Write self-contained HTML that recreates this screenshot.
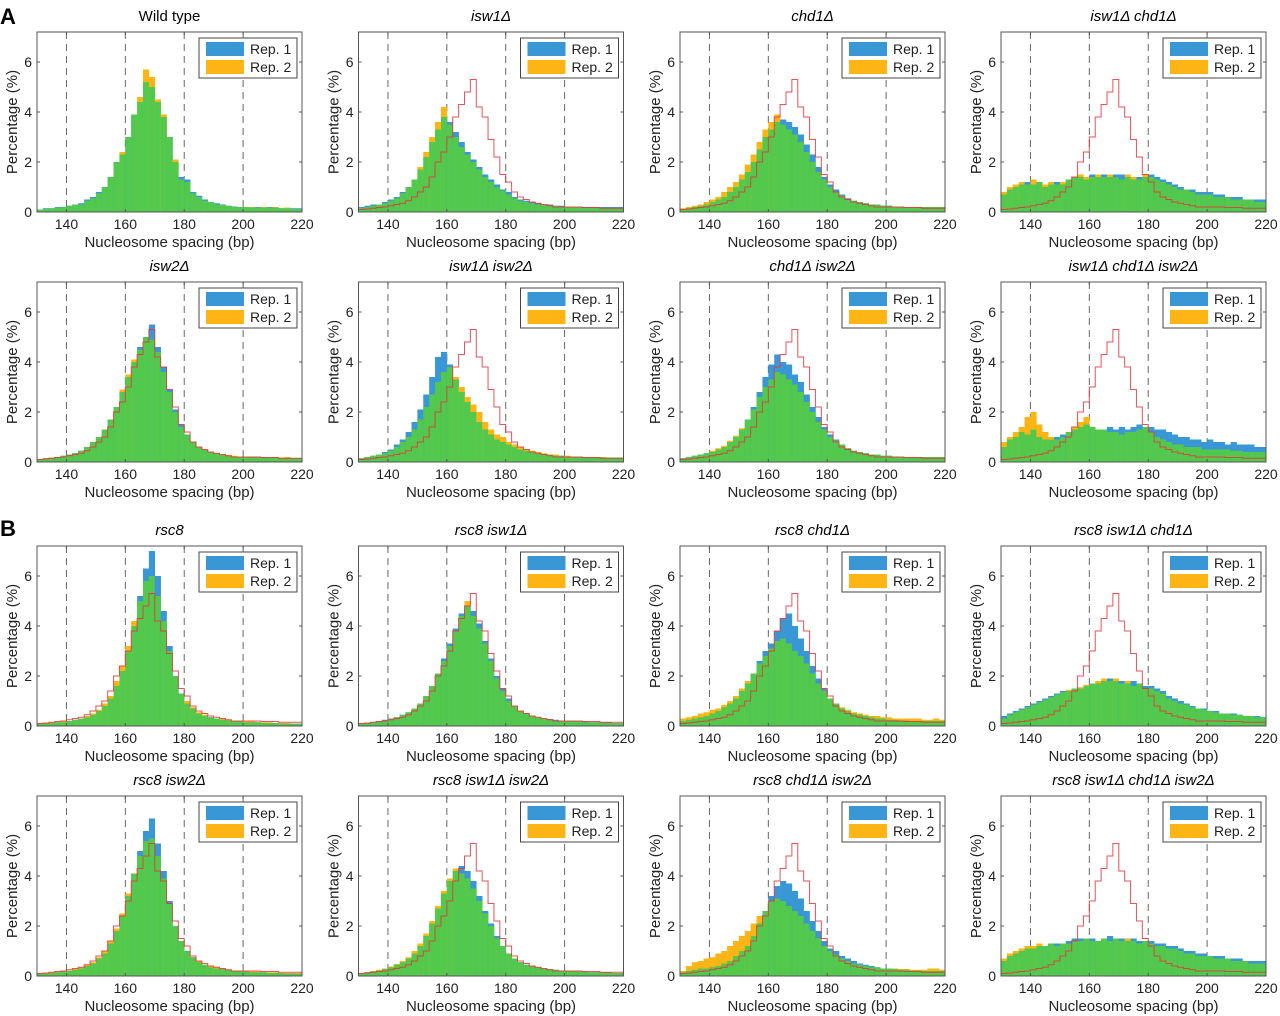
<!DOCTYPE html>
<html><head><meta charset="utf-8"><style>
html,body{margin:0;padding:0;background:#fff;}
svg{display:block;font-family:"Liberation Sans",sans-serif;}
</style></head><body>
<svg id="fig" width="1280" height="1016" viewBox="0 0 1280 1016"></svg>
<script>
const binStarts=[130,132,134,136,138,140,142,144,146,148,150,152,154,156,158,160,162,164,166,168,170,172,174,176,178,180,182,184,186,188,190,192,194,196,198,200,202,204,206,208,210,212,214,216,218];
const xTicks=[140,160,180,200,220];
const yTicks=[0,2,4,6];
const wtRef=[0.1,0.12,0.15,0.18,0.2,0.25,0.3,0.35,0.45,0.6,0.8,1.0,1.4,2.0,2.4,3.0,3.8,4.3,4.8,5.3,4.2,3.8,2.9,2.2,1.5,1.2,0.8,0.6,0.5,0.4,0.35,0.3,0.25,0.2,0.2,0.2,0.2,0.2,0.18,0.18,0.18,0.15,0.15,0.15,0.15];
const wt_r1=[0.1,0.15,0.15,0.2,0.2,0.25,0.3,0.35,0.5,0.6,0.8,1.0,1.4,2.0,2.3,3.0,3.9,4.4,5.2,5.0,4.4,3.8,3.0,2.0,1.4,1.3,0.8,0.65,0.5,0.4,0.35,0.3,0.25,0.22,0.2,0.2,0.18,0.2,0.18,0.2,0.18,0.15,0.15,0.15,0.15];
const wt_r2=[0.1,0.12,0.15,0.18,0.2,0.25,0.3,0.3,0.45,0.55,0.75,1.0,1.4,2.0,2.4,3.0,3.9,4.6,5.7,5.4,4.5,3.9,3.0,2.1,1.3,1.2,0.75,0.6,0.45,0.4,0.3,0.28,0.25,0.2,0.2,0.2,0.2,0.18,0.2,0.18,0.2,0.15,0.18,0.12,0.12];
const isw1_r1=[0.2,0.25,0.3,0.3,0.4,0.5,0.6,0.8,1.0,1.3,1.7,2.2,2.8,3.3,3.8,3.6,3.2,2.8,2.4,2.1,1.8,1.5,1.3,1.1,0.9,0.8,0.6,0.5,0.45,0.4,0.35,0.3,0.3,0.25,0.25,0.2,0.2,0.2,0.2,0.2,0.2,0.2,0.2,0.2,0.2];
const isw1_r2=[0.15,0.2,0.25,0.3,0.35,0.45,0.55,0.75,1.0,1.3,1.8,2.4,3.0,3.6,4.2,3.5,3.0,2.6,2.3,2.0,1.7,1.4,1.2,1.0,0.85,0.7,0.55,0.45,0.4,0.35,0.3,0.3,0.25,0.25,0.2,0.2,0.2,0.18,0.18,0.18,0.18,0.15,0.15,0.15,0.15];
const chd1_r1=[0.1,0.15,0.2,0.25,0.3,0.4,0.5,0.6,0.8,1.0,1.3,1.6,2.0,2.5,3.0,3.3,3.6,3.7,3.6,3.4,3.1,2.7,2.3,1.8,1.4,1.1,0.9,0.7,0.55,0.45,0.4,0.35,0.3,0.3,0.25,0.25,0.2,0.2,0.2,0.2,0.2,0.2,0.2,0.2,0.2];
const chd1_r2=[0.15,0.2,0.25,0.3,0.4,0.5,0.6,0.8,1.0,1.2,1.5,1.9,2.3,2.8,3.3,3.6,3.9,3.5,3.3,3.1,2.8,2.4,2.0,1.6,1.3,1.0,0.8,0.65,0.5,0.45,0.4,0.35,0.3,0.3,0.25,0.25,0.2,0.2,0.2,0.2,0.2,0.2,0.2,0.2,0.2];
const ic_r1=[0.7,0.9,1.0,1.1,1.2,1.1,1.2,1.0,1.1,1.2,1.1,1.3,1.4,1.4,1.3,1.5,1.4,1.5,1.4,1.5,1.5,1.4,1.3,1.4,1.4,1.5,1.4,1.3,1.2,1.1,1.0,0.9,0.9,0.8,0.8,0.8,0.7,0.7,0.6,0.6,0.6,0.5,0.5,0.5,0.5];
const ic_r2=[0.8,1.0,1.1,1.2,1.1,1.3,1.2,1.1,1.2,1.1,1.2,1.3,1.4,1.5,1.4,1.4,1.5,1.4,1.5,1.4,1.3,1.5,1.4,1.3,1.5,1.4,1.3,1.2,1.1,1.0,0.9,0.9,0.8,0.7,0.7,0.7,0.6,0.6,0.6,0.5,0.5,0.5,0.5,0.4,0.4];
const isw2_r1=[0.1,0.15,0.15,0.2,0.25,0.3,0.35,0.45,0.6,0.8,1.0,1.3,1.7,2.2,2.8,3.4,4.0,4.6,5.0,5.5,4.6,3.8,2.9,2.1,1.5,1.1,0.8,0.6,0.5,0.4,0.35,0.3,0.25,0.22,0.2,0.2,0.2,0.2,0.18,0.18,0.18,0.15,0.15,0.15,0.15];
const isw2_r2=[0.12,0.15,0.18,0.2,0.25,0.3,0.35,0.45,0.6,0.8,1.0,1.3,1.7,2.2,2.9,3.5,4.1,4.5,5.0,4.9,4.4,3.6,2.8,2.0,1.4,1.1,0.8,0.6,0.5,0.4,0.35,0.3,0.28,0.25,0.2,0.2,0.22,0.2,0.2,0.18,0.2,0.18,0.2,0.15,0.15];
const i12_r1=[0.15,0.2,0.25,0.3,0.4,0.5,0.7,0.9,1.2,1.6,2.1,2.7,3.4,4.2,4.4,3.9,3.3,2.8,2.4,2.0,1.6,1.3,1.1,0.9,0.8,0.7,0.6,0.5,0.45,0.4,0.35,0.3,0.3,0.25,0.25,0.22,0.2,0.2,0.2,0.2,0.2,0.18,0.18,0.18,0.18];
const i12_r2=[0.15,0.2,0.25,0.3,0.35,0.45,0.6,0.8,1.0,1.3,1.7,2.2,2.7,3.2,3.6,3.8,3.4,3.0,2.6,2.3,2.0,1.6,1.3,1.1,1.0,0.8,0.7,0.6,0.5,0.45,0.4,0.35,0.3,0.3,0.25,0.25,0.22,0.2,0.2,0.2,0.2,0.2,0.18,0.18,0.18];
const c2_r1=[0.15,0.2,0.25,0.3,0.35,0.4,0.5,0.6,0.8,1.0,1.3,1.7,2.2,2.8,3.4,3.9,4.3,4.0,3.9,3.5,3.2,2.7,2.2,1.8,1.4,1.1,0.9,0.7,0.55,0.45,0.4,0.35,0.3,0.3,0.25,0.25,0.22,0.2,0.2,0.2,0.2,0.2,0.2,0.2,0.2];
const c2_r2=[0.15,0.2,0.25,0.3,0.35,0.45,0.55,0.65,0.85,1.05,1.35,1.7,2.1,2.6,3.0,3.3,3.6,3.5,3.3,3.1,2.8,2.4,2.0,1.6,1.3,1.0,0.85,0.7,0.55,0.45,0.4,0.35,0.3,0.3,0.25,0.25,0.22,0.2,0.2,0.2,0.2,0.2,0.2,0.2,0.2];
const ic2_r1=[0.6,0.9,1.0,1.2,1.1,1.3,1.0,0.9,0.9,1.0,1.1,1.2,1.3,1.4,1.5,1.4,1.3,1.3,1.4,1.3,1.4,1.3,1.4,1.5,1.4,1.4,1.3,1.3,1.2,1.1,1.0,1.0,0.9,0.9,0.8,0.9,0.8,0.8,0.7,0.8,0.7,0.7,0.7,0.6,0.6];
const ic2_r2=[0.8,1.0,1.2,1.4,1.8,2.0,1.5,1.2,1.0,0.9,1.0,1.2,1.4,1.6,1.8,1.4,1.3,1.3,1.2,1.2,1.1,1.2,1.2,1.3,1.4,1.2,1.0,0.9,0.8,0.7,0.7,0.6,0.6,0.6,0.5,0.5,0.5,0.5,0.5,0.45,0.45,0.4,0.4,0.4,0.4];
const r8_r1=[0.1,0.1,0.12,0.15,0.15,0.2,0.25,0.3,0.35,0.45,0.6,0.8,1.1,1.6,2.2,3.0,4.0,5.2,6.3,7.0,6.0,4.6,3.2,2.0,1.3,0.9,0.7,0.5,0.4,0.35,0.3,0.25,0.22,0.2,0.18,0.15,0.15,0.15,0.12,0.12,0.12,0.1,0.1,0.1,0.1];
const r8_r2=[0.1,0.12,0.15,0.15,0.2,0.2,0.25,0.3,0.4,0.5,0.65,0.9,1.2,1.8,2.4,3.2,4.2,5.0,5.8,6.0,5.2,4.2,3.0,2.0,1.3,1.0,0.75,0.55,0.45,0.35,0.3,0.28,0.25,0.2,0.2,0.18,0.18,0.15,0.15,0.15,0.12,0.12,0.12,0.1,0.1];
const r8i1_r1=[0.1,0.12,0.15,0.2,0.25,0.3,0.35,0.45,0.55,0.7,0.9,1.2,1.6,2.1,2.7,3.3,3.9,4.5,4.8,4.6,4.1,3.4,2.7,2.0,1.5,1.1,0.8,0.6,0.5,0.4,0.35,0.3,0.28,0.25,0.22,0.2,0.2,0.18,0.18,0.15,0.15,0.15,0.15,0.12,0.12];
const r8i1_r2=[0.1,0.12,0.15,0.2,0.22,0.28,0.35,0.45,0.55,0.7,0.9,1.2,1.6,2.1,2.6,3.2,3.8,4.4,5.0,4.4,3.9,3.3,2.6,1.9,1.4,1.0,0.8,0.6,0.5,0.4,0.35,0.3,0.25,0.22,0.2,0.2,0.18,0.18,0.15,0.15,0.15,0.15,0.12,0.12,0.12];
const r8c1_r1=[0.2,0.25,0.3,0.35,0.4,0.5,0.6,0.75,0.9,1.1,1.4,1.7,2.1,2.6,3.0,3.3,3.8,4.3,4.5,4.0,3.5,3.0,2.4,1.9,1.5,1.1,0.9,0.7,0.6,0.5,0.45,0.4,0.35,0.3,0.3,0.25,0.25,0.22,0.22,0.2,0.2,0.2,0.2,0.2,0.2];
const r8c1_r2=[0.3,0.35,0.4,0.5,0.55,0.65,0.7,0.85,1.0,1.2,1.5,1.8,2.1,2.5,2.8,3.1,3.4,3.5,3.3,3.0,2.8,2.5,2.1,1.7,1.4,1.1,0.9,0.75,0.65,0.55,0.5,0.45,0.4,0.4,0.35,0.35,0.3,0.3,0.3,0.3,0.3,0.25,0.25,0.3,0.25];
const r8ic_r1=[0.4,0.5,0.6,0.7,0.8,0.9,1.0,1.1,1.2,1.3,1.4,1.4,1.5,1.5,1.6,1.7,1.7,1.8,1.9,1.8,1.8,1.7,1.8,1.7,1.6,1.6,1.5,1.4,1.2,1.1,1.0,0.9,0.8,0.7,0.7,0.6,0.6,0.5,0.5,0.5,0.45,0.4,0.4,0.4,0.35];
const r8ic_r2=[0.3,0.45,0.55,0.65,0.75,0.85,0.95,1.05,1.15,1.25,1.35,1.45,1.5,1.55,1.65,1.7,1.8,1.9,1.8,1.9,1.7,1.8,1.6,1.7,1.5,1.5,1.4,1.3,1.1,1.0,0.9,0.85,0.75,0.7,0.65,0.6,0.55,0.5,0.5,0.45,0.45,0.4,0.4,0.35,0.35];
const r8i2_r1=[0.1,0.1,0.12,0.15,0.18,0.2,0.25,0.3,0.4,0.5,0.7,0.9,1.3,1.8,2.4,3.2,4.1,5.0,5.8,6.3,5.3,4.2,3.0,2.0,1.4,1.0,0.75,0.55,0.45,0.35,0.3,0.28,0.25,0.2,0.2,0.18,0.15,0.15,0.15,0.12,0.12,0.12,0.1,0.1,0.1];
const r8i2_r2=[0.1,0.12,0.15,0.18,0.2,0.22,0.28,0.35,0.45,0.55,0.75,1.0,1.4,1.9,2.5,3.3,4.1,4.8,5.4,5.5,4.8,3.9,2.9,2.0,1.4,1.0,0.75,0.6,0.45,0.4,0.35,0.3,0.25,0.22,0.2,0.2,0.18,0.18,0.15,0.15,0.15,0.12,0.12,0.12,0.12];
const r8i12_r1=[0.1,0.15,0.18,0.22,0.28,0.35,0.45,0.55,0.7,0.9,1.2,1.6,2.1,2.7,3.3,3.8,4.2,4.4,4.2,3.8,3.2,2.6,2.1,1.6,1.2,0.9,0.7,0.55,0.45,0.4,0.35,0.3,0.28,0.25,0.22,0.2,0.2,0.18,0.18,0.15,0.15,0.15,0.15,0.12,0.12];
const r8i12_r2=[0.1,0.15,0.2,0.25,0.3,0.38,0.48,0.6,0.75,1.0,1.3,1.7,2.2,2.8,3.4,3.9,4.3,4.1,3.9,3.5,3.0,2.5,2.0,1.5,1.2,0.9,0.7,0.55,0.45,0.4,0.35,0.3,0.28,0.25,0.22,0.2,0.2,0.18,0.18,0.15,0.15,0.15,0.15,0.12,0.12];
const r8c12_r1=[0.15,0.2,0.25,0.3,0.3,0.35,0.4,0.5,0.6,0.8,1.0,1.2,1.6,2.1,2.6,3.2,3.6,3.8,3.7,3.4,3.1,2.6,2.2,1.8,1.4,1.1,1.0,0.8,0.7,0.6,0.5,0.45,0.4,0.35,0.3,0.3,0.28,0.25,0.25,0.22,0.22,0.2,0.2,0.2,0.2];
const r8c12_r2=[0.2,0.4,0.55,0.6,0.7,0.75,0.9,1.0,1.2,1.4,1.6,1.8,2.1,2.4,2.6,3.0,3.1,3.0,2.8,2.6,2.4,2.1,1.8,1.5,1.2,1.0,0.85,0.7,0.6,0.5,0.45,0.4,0.35,0.35,0.3,0.3,0.3,0.28,0.28,0.25,0.25,0.25,0.3,0.3,0.25];
const r8q_r1=[0.6,0.8,0.9,1.0,1.1,1.1,1.2,1.2,1.3,1.3,1.3,1.4,1.5,1.5,1.5,1.5,1.4,1.5,1.6,1.5,1.5,1.4,1.5,1.4,1.4,1.4,1.3,1.3,1.2,1.2,1.1,1.0,1.0,0.9,0.9,0.8,0.8,0.8,0.7,0.7,0.7,0.6,0.6,0.6,0.6];
const r8q_r2=[0.7,0.9,1.0,1.1,1.2,1.2,1.3,1.2,1.3,1.2,1.3,1.3,1.4,1.4,1.5,1.4,1.4,1.5,1.4,1.5,1.4,1.5,1.4,1.3,1.4,1.3,1.2,1.2,1.1,1.1,1.0,0.9,0.9,0.8,0.8,0.8,0.7,0.7,0.7,0.6,0.6,0.6,0.5,0.5,0.5];

const panels=[
 {t:"Wild type",it:false,a:wt_r1,b:wt_r2,ref:false},
 {t:"isw1Δ",it:true,a:isw1_r1,b:isw1_r2,ref:true},
 {t:"chd1Δ",it:true,a:chd1_r1,b:chd1_r2,ref:true},
 {t:"isw1Δ chd1Δ",it:true,a:ic_r1,b:ic_r2,ref:true},
 {t:"isw2Δ",it:true,a:isw2_r1,b:isw2_r2,ref:true},
 {t:"isw1Δ isw2Δ",it:true,a:i12_r1,b:i12_r2,ref:true},
 {t:"chd1Δ isw2Δ",it:true,a:c2_r1,b:c2_r2,ref:true},
 {t:"isw1Δ chd1Δ isw2Δ",it:true,a:ic2_r1,b:ic2_r2,ref:true},
 {t:"rsc8",it:true,a:r8_r1,b:r8_r2,ref:true},
 {t:"rsc8 isw1Δ",it:true,a:r8i1_r1,b:r8i1_r2,ref:true},
 {t:"rsc8 chd1Δ",it:true,a:r8c1_r1,b:r8c1_r2,ref:true},
 {t:"rsc8 isw1Δ chd1Δ",it:true,a:r8ic_r1,b:r8ic_r2,ref:true},
 {t:"rsc8 isw2Δ",it:true,a:r8i2_r1,b:r8i2_r2,ref:true},
 {t:"rsc8 isw1Δ isw2Δ",it:true,a:r8i12_r1,b:r8i12_r2,ref:true},
 {t:"rsc8 chd1Δ isw2Δ",it:true,a:r8c12_r1,b:r8c12_r2,ref:true},
 {t:"rsc8 isw1Δ chd1Δ isw2Δ",it:true,a:r8q_r1,b:r8q_r2,ref:true}
];
const colX=[37,358.5,680,1001];
const rowTop=[32,282,546,796];
const W=265,H=180;
const NS="http://www.w3.org/2000/svg";
const svg=document.getElementById('fig');
function mk(tag,attrs,parent){const e=document.createElementNS(NS,tag);for(const k in attrs)e.setAttribute(k,attrs[k]);(parent||svg).appendChild(e);return e;}
function txt(s,attrs,parent){const e=mk('text',attrs,parent);e.textContent=s;return e;}

const la=txt("A",{x:0,y:24,"font-size":22,"font-weight":"bold"});


const lb=txt("B",{x:0,y:536,"font-size":22,"font-weight":"bold"});



panels.forEach((p,i)=>{
  const L=colX[i%4],T=rowTop[Math.floor(i/4)];
  const xs=v=>L+(v-130)/90*W;
  const ys=v=>T+H-v*25;
  const g=mk('g',{});
  
  
  const tt=txt(p.t,{x:L+W/2,y:T-11,"text-anchor":"middle","font-size":15,"font-style":p.it?"italic":"normal"},g);
  
  
  // dashed guides
  [140,160,180,200].forEach(v=>{const d=mk('line',{x1:xs(v),x2:xs(v),y1:T,y2:T+H,stroke:"#666","stroke-width":1,"stroke-dasharray":"7,5"},g);
    
    });
  // bars
  binStarts.forEach((b,k)=>{
    const a=p.a[k],c=p.b[k],x=xs(b),w=xs(b+2)-x+0.3;
    const hi=Math.max(a,c),lo=Math.min(a,c);
    const top=mk('rect',{x:x,y:ys(hi),width:w,height:ys(0)-ys(hi),fill:a>=c?"#3a97d5":"#fdb515"},g);
    
    
    const gr=mk('rect',{x:x,y:ys(lo),width:w,height:ys(0)-ys(lo),fill:"#52c84c"},g);
    
    
  });
  if(p.ref){
    let d="M"+xs(130)+","+ys(0);
    binStarts.forEach((b,k)=>{d+=" L"+xs(b)+","+ys(wtRef[k])+" L"+xs(b+2)+","+ys(wtRef[k]);});
    const r=mk('path',{d:d,fill:"none",stroke:"#e8343c","stroke-width":1,"stroke-opacity":0.85},g);
    
    
  }
  const box=mk('rect',{x:L,y:T,width:W,height:H,fill:"none",stroke:"#555","stroke-width":1},g);
  
  
  xTicks.forEach(v=>{
    mk('line',{x1:xs(v),x2:xs(v),y1:T+H,y2:T+H-3,stroke:"#555"},g);
    mk('line',{x1:xs(v),x2:xs(v),y1:T,y2:T+3,stroke:"#555"},g);
    const t=txt(String(v),{x:xs(v),y:T+H+17,"text-anchor":"middle","font-size":14,fill:"#222"},g);
    
    
  });
  yTicks.forEach(v=>{
    mk('line',{x1:L,x2:L+3,y1:ys(v),y2:ys(v),stroke:"#555"},g);
    mk('line',{x1:L+W,x2:L+W-3,y1:ys(v),y2:ys(v),stroke:"#555"},g);
    const t=txt(String(v),{x:L-5,y:ys(v)+5,"text-anchor":"end","font-size":14,fill:"#222"},g);
    
    
  });
  const xt=txt("Nucleosome spacing (bp)",{x:L+W/2,y:T+H+35,"text-anchor":"middle","font-size":15,fill:"#222"},g);
  
  
  const yt=txt("Percentage (%)",{x:0,y:0,"text-anchor":"middle","font-size":15,fill:"#222",transform:"translate("+(L-20)+","+(T+H/2)+") rotate(-90)"},g);
  
  
  // legend
  const lg=mk('g',{},g);
  
  
  mk('rect',{x:L+W-103,y:T+6,width:98,height:40,fill:"#fff",stroke:"#444","stroke-width":1},lg);
  mk('rect',{x:L+W-96,y:T+10,width:38,height:14,fill:"#3a97d5"},lg);
  mk('rect',{x:L+W-96,y:T+28,width:38,height:14,fill:"#fdb515"},lg);
  const l1=txt("Rep. 1",{x:L+W-52,y:T+22,"font-size":14,fill:"#222"},lg);
  
  
  const l2=txt("Rep. 2",{x:L+W-52,y:T+40,"font-size":14,fill:"#222"},lg);
  
  
});
</script>
</body></html>
